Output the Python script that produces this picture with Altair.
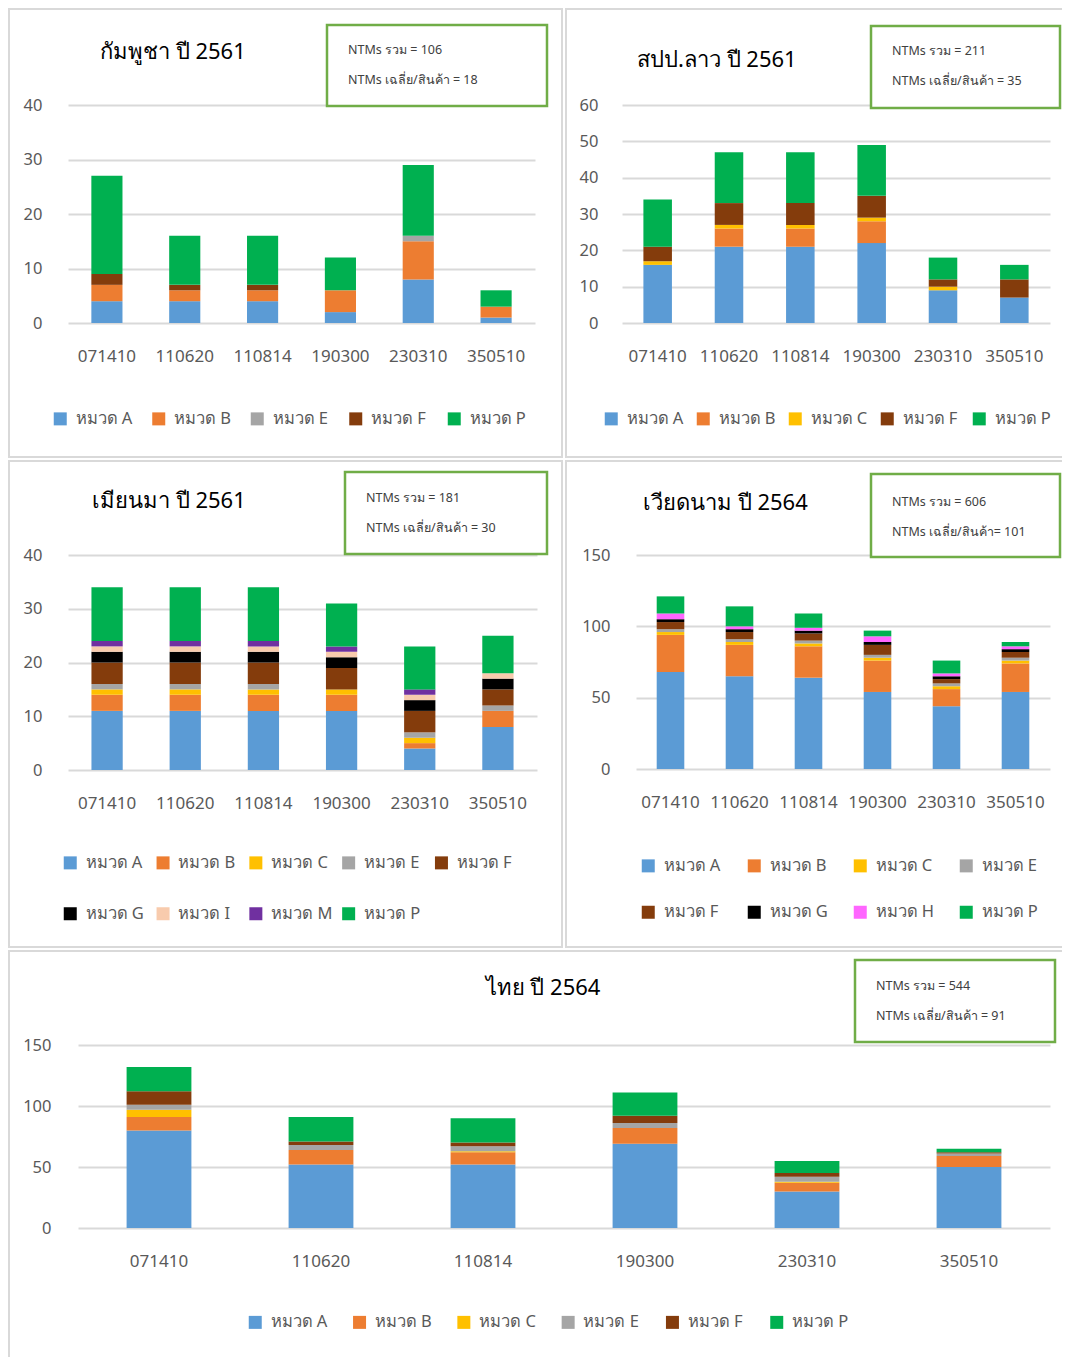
import altair as alt
import pandas as pd

codes = ["071410", "110620", "110814", "190300", "230310", "350510"]

cat_colors = {
    "A": "#5B9BD5", "B": "#ED7D31", "C": "#FFC000", "E": "#A5A5A5",
    "F": "#843C0C", "G": "#000000", "H": "#FF66FF", "I": "#F8CBAD",
    "M": "#7030A0", "P": "#00B050",
}

# Cambodia 2561
kh_cats = ["A", "B", "E", "F", "P"]
kh_A = [4, 4, 4, 2, 8, 1]
kh_B = [3, 2, 2, 4, 7, 2]
kh_E = [0, 0, 0, 0, 1, 0]
kh_F = [2, 1, 1, 0, 0, 0]
kh_P = [18, 9, 9, 6, 13, 3]

# Laos 2561
la_cats = ["A", "B", "C", "F", "P"]
la_A = [16, 21, 21, 22, 9, 7]
la_B = [0, 5, 5, 6, 0, 0]
la_C = [1, 1, 1, 1, 1, 0]
la_F = [4, 6, 6, 6, 2, 5]
la_P = [13, 14, 14, 14, 6, 4]

# Myanmar 2561
mm_cats = ["A", "B", "C", "E", "F", "G", "I", "M", "P"]
mm_A = [11, 11, 11, 11, 4, 8]
mm_B = [3, 3, 3, 3, 1, 3]
mm_C = [1, 1, 1, 1, 1, 0]
mm_E = [1, 1, 1, 0, 1, 1]
mm_F = [4, 4, 4, 4, 4, 3]
mm_G = [2, 2, 2, 2, 2, 2]
mm_I = [1, 1, 1, 1, 1, 1]
mm_M = [1, 1, 1, 1, 1, 0]
mm_P = [10, 10, 10, 8, 8, 7]

# Vietnam 2564
vn_cats = ["A", "B", "C", "E", "F", "G", "H", "P"]
vn_A = [68, 65, 64, 54, 44, 54]
vn_B = [26, 22, 22, 22, 12, 20]
vn_C = [2, 2, 2, 2, 2, 2]
vn_E = [2, 2, 2, 2, 2, 2]
vn_F = [5, 5, 5, 7, 3, 4]
vn_G = [2, 2, 2, 2, 2, 2]
vn_H = [4, 2, 2, 4, 2, 2]
vn_P = [12, 14, 10, 4, 9, 3]

# Thailand 2564
th_cats = ["A", "B", "C", "E", "F", "P"]
th_A = [80, 52, 52, 69, 30, 50]
th_B = [11, 12, 10, 13, 7, 9]
th_C = [6, 0, 1, 0, 1, 0]
th_E = [4, 4, 4, 4, 4, 2]
th_F = [11, 3, 3, 6, 3, 1]
th_P = [20, 20, 20, 19, 10, 3]

titles = ["กัมพูชา ปี 2561", "สปป.ลาว ปี 2561", "เมียนมา ปี 2561", "เวียดนาม ปี 2564", "ไทย ปี 2564"]
notes = [
    ["NTMs รวม = 106", "NTMs เฉลี่ย/สินค้า = 18"],
    ["NTMs รวม = 211", "NTMs เฉลี่ย/สินค้า = 35"],
    ["NTMs รวม = 181", "NTMs เฉลี่ย/สินค้า = 30"],
    ["NTMs รวม = 606", "NTMs เฉลี่ย/สินค้า= 101"],
    ["NTMs รวม = 544", "NTMs เฉลี่ย/สินค้า = 91"],
]

FONT = "Noto Sans"
LABEL = "#595959"
GRID = "#D9D9D9"


def one_row():
    return pd.DataFrame({"k": [0]})


def panel(series, cats, yvals, title, note, g):
    px, py, w, h, fw, fh = g["px"], g["py"], g["w"], g["h"], g["fw"], g["fh"]
    rows = []
    for ci, c in enumerate(cats):
        for code, v in zip(codes, series[c]):
            if v > 0:
                rows.append({"code": code, "cat": "หมวด " + c, "ord": ci, "v": v})
    df = pd.DataFrame(rows)
    dom = ["หมวด " + c for c in cats]
    rng = [cat_colors[c] for c in cats]

    L, R, T, B = -px, fw - px, -py, fh - py
    extent = alt.Chart(one_row()).mark_rect(
        fill="white", fillOpacity=0, strokeOpacity=0
    ).encode(x=alt.value(L), x2=alt.value(R), y=alt.value(T), y2=alt.value(B))

    layers = [extent]
    edges = []
    if "l" in g["edges"]:
        edges.append((L + 1, L + 1, T, B))
    if "t" in g["edges"]:
        edges.append((L, R, T + 1, T + 1))
    if "r" in g["edges"]:
        edges.append((R - 1, R - 1, T, B))
    if "b" in g["edges"]:
        edges.append((L, R, B - 1, B - 1))
    for (x1, x2, y1, y2) in edges:
        layers.append(alt.Chart(one_row()).mark_rule(color=GRID, strokeWidth=2).encode(
            x=alt.value(x1), x2=alt.value(x2), y=alt.value(y1), y2=alt.value(y2)))

    xscale = alt.Scale(paddingInner=0.6, paddingOuter=0.3)
    if "xr" in g:
        xscale = alt.Scale(paddingInner=0.6, paddingOuter=0.3, range=g["xr"])

    bars = alt.Chart(df).mark_bar().encode(
        x=alt.X("code:N", sort=codes, scale=xscale,
                axis=alt.Axis(title=None, labelAngle=0, domain=False, ticks=False,
                              grid=False, labelFontSize=17, labelColor=LABEL,
                              labelFont=FONT, labelPadding=25)),
        y=alt.Y("v:Q", stack="zero",
                scale=alt.Scale(domain=[yvals[0], yvals[-1]], nice=False),
                axis=alt.Axis(title=None, values=yvals, domain=False, ticks=False,
                              grid=True, gridColor=GRID, gridWidth=2,
                              labelFontSize=16.5, labelColor=LABEL, labelFont=FONT,
                              labelPadding=g["ylp"])),
        color=alt.Color("cat:N", scale=alt.Scale(domain=dom, range=rng),
                        legend=alt.Legend(
                            title=None, orient="none", legendX=g["lx"], legendY=g["ly"],
                            direction="horizontal", columns=g["cols"],
                            symbolType="square", symbolSize=169, symbolStrokeWidth=0,
                            labelFontSize=16.5, labelColor=LABEL, labelFont=FONT,
                            labelOffset=7, gridAlign="all", padding=0,
                            columnPadding=g["cp"], rowPadding=g["rp"])),
        order=alt.Order("ord:Q"),
    )
    layers.append(bars)

    layers.append(alt.Chart(pd.DataFrame({"t": [title]})).mark_text(
        align=g["ta"], baseline="middle", fontSize=22, color="#000000", font=FONT
    ).encode(text="t:N", x=alt.value(g["tx"]), y=alt.value(g["ty"])))

    bx = g["box"]
    layers.append(alt.Chart(one_row()).mark_rect(
        fill="white", stroke="#70AD47", strokeWidth=2.5
    ).encode(x=alt.value(bx[0]), x2=alt.value(bx[1]), y=alt.value(bx[2]), y2=alt.value(bx[3])))

    for i, line in enumerate(note):
        layers.append(alt.Chart(pd.DataFrame({"t": [line]})).mark_text(
            align="left", baseline="middle", fontSize=12.5, color="#404040", font=FONT
        ).encode(text="t:N", x=alt.value(bx[0] + 21), y=alt.value(bx[2] + g["nd"] + 30 * i)))

    return alt.layer(*layers).properties(width=w, height=h)


g1 = dict(px=60, py=97, w=467, h=218, fw=555, fh=450, ylp=26,
          lx=-16, ly=305.5, cols=5, cp=17.5, rp=30, ta="left", tx=32, ty=-53,
          box=[259, 479, -80, 1], nd=25, edges="ltrb")
g2 = dict(px=57, py=97, w=428, h=218, fw=505, fh=450, ylp=24,
          lx=-19, ly=305.5, cols=5, cp=11, rp=30, ta="left", tx=15, ty=-45,
          box=[249, 438, -79, 3], nd=25, edges="ltb")
g3 = dict(px=60, py=95, w=469, h=215, fw=555, fh=488, ylp=26,
          lx=-6, ly=299.5, cols=5, cp=7.8, rp=34, ta="left", tx=24, ty=-54,
          box=[277, 479, -83, -1], nd=26, edges="ltrb")
g4 = dict(px=71, py=95, w=414, h=214, fw=505, fh=488, ylp=26,
          lx=4, ly=302.5, cols=4, cp=23, rp=29.5, ta="left", tx=7, ty=-52,
          box=[235, 424, -81, 2], nd=28, edges="ltb")
g5 = dict(px=60, py=95, w=982, h=183, fw=1062, fh=408, ylp=17, xr=[10, 982],
          lx=179, ly=269, cols=6, cp=23.3, rp=30, ta="center", tx=475, ty=-57,
          box=[787, 987, -85, -3], nd=26, edges="lt")

p1 = panel({"A": kh_A, "B": kh_B, "E": kh_E, "F": kh_F, "P": kh_P}, kh_cats,
           [0, 10, 20, 30, 40], titles[0], notes[0], g1)
p2 = panel({"A": la_A, "B": la_B, "C": la_C, "F": la_F, "P": la_P}, la_cats,
           [0, 10, 20, 30, 40, 50, 60], titles[1], notes[1], g2)
p3 = panel({"A": mm_A, "B": mm_B, "C": mm_C, "E": mm_E, "F": mm_F, "G": mm_G,
            "I": mm_I, "M": mm_M, "P": mm_P}, mm_cats,
           [0, 10, 20, 30, 40], titles[2], notes[2], g3)
p4 = panel({"A": vn_A, "B": vn_B, "C": vn_C, "E": vn_E, "F": vn_F, "G": vn_G,
            "H": vn_H, "P": vn_P}, vn_cats,
           [0, 50, 100, 150], titles[3], notes[3], g4)
p5 = panel({"A": th_A, "B": th_B, "C": th_C, "E": th_E, "F": th_F, "P": th_P}, th_cats,
           [0, 50, 100, 150], titles[4], notes[4], g5)

row1 = alt.hconcat(p1, p2, spacing=0).resolve_scale(color="independent")
row2 = alt.hconcat(p3, p4, spacing=0).resolve_scale(color="independent")
chart = alt.vconcat(row1, row2, p5, spacing=0).resolve_scale(
    color="independent"
).properties(
    autosize=alt.AutoSizeParams(type="none"),
    padding={"left": 60, "top": 97, "right": 994, "bottom": 1252},
).configure_view(strokeWidth=0)

chart.save("out.html", embed_options={"renderer": "svg", "actions": False})
